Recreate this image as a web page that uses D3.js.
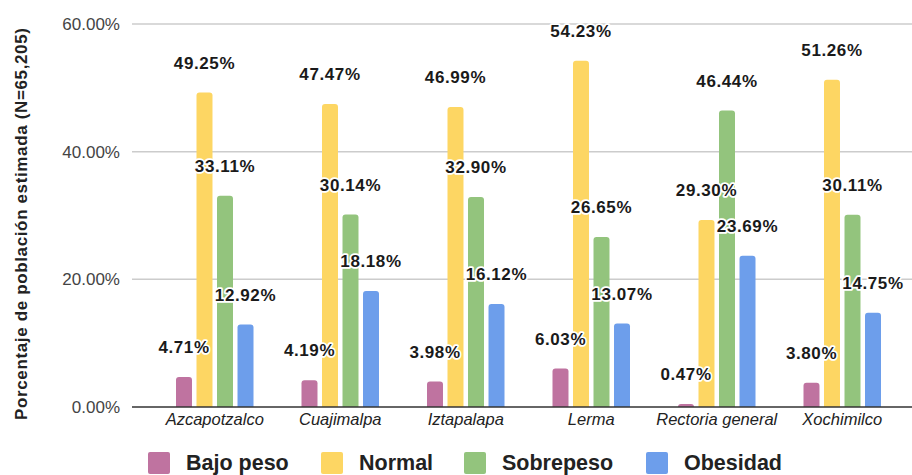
<!DOCTYPE html>
<html>
<head>
<meta charset="utf-8">
<script src="https://cdn.jsdelivr.net/npm/d3@7"></script>
<style>
  html, body { margin: 0; padding: 0; background: #fff; }
  svg { display: block; font-family: "Liberation Sans", Arial, sans-serif; }
</style>
</head>
<body>
<svg id="chart" width="912" height="475"></svg>
<script>
// Campus / unit names
const categories = ["Azcapotzalco", "Cuajimalpa", "Iztapalapa", "Lerma", "Rectoria general", "Xochimilco"];
// Series (BMI classes)
const seriesNames = ["Bajo peso", "Normal", "Sobrepeso", "Obesidad"];
const seriesColors = ["#bf73a0", "#fdd663", "#93c47d", "#6d9eeb"];
// Percentages per series, in category order
const bajoPeso  = [4.71, 4.19, 3.98, 6.03, 0.47, 3.80];
const normal    = [49.25, 47.47, 46.99, 54.23, 29.30, 51.26];
const sobrepeso = [33.11, 30.14, 32.90, 26.65, 46.44, 30.11];
const obesidad  = [12.92, 18.18, 16.12, 13.07, 23.69, 14.75];
// Y axis ticks
const yTicks = [0, 20, 40, 60];
const yTitle = "Porcentaje de población estimada (N=65,205)";

const seriesValues = [bajoPeso, normal, sobrepeso, obesidad];
const rows = [];
categories.forEach((c, ci) => {
  seriesNames.forEach((s, si) => rows.push({ cat: c, series: s, si, value: seriesValues[si][ci] }));
});

const svg = d3.select("#chart");
const plotLeft = 132, plotRight = 912;

const y = d3.scaleLinear().domain([0, 60]).range([407, 24]);
const x0 = d3.scaleBand().domain(categories).range([152, 905]);
const x1 = d3.scaleBand().domain(seriesNames).range([-38.75, 38.75]).paddingInner(0.22);
const color = d3.scaleOrdinal().domain(seriesNames).range(seriesColors);

// Gridlines
svg.append("g").selectAll("line").data(yTicks.filter(t => t > 0)).join("line")
  .attr("x1", plotLeft).attr("x2", plotRight)
  .attr("y1", d => y(d)).attr("y2", d => y(d))
  .attr("stroke", "#cccccc").attr("stroke-width", 1.5);

// Y axis tick labels
const yAxis = d3.axisLeft(y).tickValues(yTicks).tickSize(0).tickPadding(0)
  .tickFormat(d => d.toFixed(2) + "%");
const yg = svg.append("g").attr("transform", "translate(120,0)").call(yAxis);
yg.select(".domain").remove();
yg.selectAll("text").attr("font-size", 17).attr("fill", "#444").attr("font-family", "Liberation Sans, Arial, sans-serif");

// Y axis title
svg.append("text")
  .attr("transform", "translate(27,224) rotate(-90)")
  .attr("text-anchor", "middle")
  .attr("font-size", 17).attr("font-weight", "bold").attr("fill", "#222")
  .attr("textLength", 392).attr("lengthAdjust", "spacing")
  .text(yTitle);

// Bars with rounded tops
function barPath(x, w, top, bottom) {
  const r = Math.min(3, (bottom - top), w / 2);
  return `M${x},${bottom}V${top + r}Q${x},${top} ${x + r},${top}H${x + w - r}Q${x + w},${top} ${x + w},${top + r}V${bottom}Z`;
}
svg.append("g").selectAll("path").data(rows).join("path")
  .attr("d", d => barPath(x0(d.cat) + x0.bandwidth() / 2 + x1(d.series), x1.bandwidth(), y(d.value), y(0)))
  .attr("fill", d => color(d.series));

// Baseline
svg.append("line")
  .attr("x1", plotLeft).attr("x2", plotRight)
  .attr("y1", y(0)).attr("y2", y(0))
  .attr("stroke", "#333").attr("stroke-width", 1.5);

// X axis labels
const xAxis = d3.axisBottom(x0).tickSize(0).tickPadding(0);
const xg = svg.append("g").attr("transform", "translate(0,413)").call(xAxis);
xg.select(".domain").remove();
xg.selectAll("text").attr("font-size", 16.5).attr("font-style", "italic").attr("fill", "#222")
  .attr("font-family", "Liberation Sans, Arial, sans-serif").attr("dy", "0.71em");

// Value labels with white halo
svg.append("g").selectAll("text").data(rows).join("text")
  .attr("x", d => x0(d.cat) + x0.bandwidth() / 2 + x1(d.series) + x1.bandwidth() / 2)
  .attr("y", d => y(d.value) - 24)
  .attr("text-anchor", "middle")
  .attr("font-size", 17).attr("font-weight", "bold").attr("fill", "#1a1a1a")
  .attr("letter-spacing", 0.6)
  .attr("stroke", "#fff").attr("stroke-width", 3.5).attr("stroke-linejoin", "round")
  .attr("paint-order", "stroke")
  .text(d => d.value.toFixed(2) + "%");

// Legend
const legendX = [148, 321, 464, 646];
const lg = svg.append("g").selectAll("g").data(seriesNames).join("g")
  .attr("transform", (d, i) => `translate(${legendX[i]},452)`);
lg.append("rect").attr("width", 22).attr("height", 22).attr("rx", 2)
  .attr("fill", d => color(d));
lg.append("text").attr("x", 38).attr("y", 18)
  .attr("font-size", 21.5).attr("font-weight", "bold").attr("fill", "#222")
  .text(d => d);
</script>
</body>
</html>
